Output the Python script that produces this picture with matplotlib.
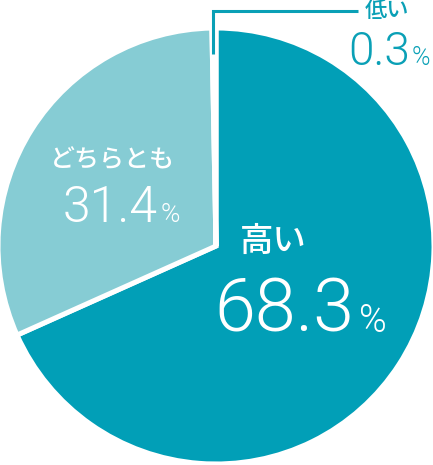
import matplotlib
matplotlib.use("Agg")
import matplotlib.pyplot as plt

labels = ["高い", "どちらとも", "低い"]
values = [68.3, 31.4, 0.3]
colors = ["#019fb7", "#86ccd4", "#eef6f7"]

W, H = 433, 465
fig = plt.figure(figsize=(W / 100, H / 100), dpi=100)
ax = fig.add_axes([0, 0, 1, 1])

cx, cy, R = 216, H - 246, 218
ax.pie(values, colors=colors, startangle=90, counterclock=False,
       center=(cx, cy), radius=R, frame=True,
       wedgeprops=dict(edgecolor="white", linewidth=3.6))
ax.set_xlim(0, W)
ax.set_ylim(0, H)
ax.set_aspect("equal")
ax.axis("off")

jp = ["Noto Sans CJK JP", "DejaVu Sans"]
num = ["Roboto", "DejaVu Sans"]

def Y(y):
    return H - y

# 高い
ax.text(273, Y(241), labels[0], family=jp, fontsize=24, color="white",
        ha="center", va="center", fontweight="medium")
ax.text(354, Y(332), f"{values[0]}", family=num, fontsize=53, color="white",
        ha="right", va="baseline", fontweight=300)
ax.text(359, Y(332), "%", family=num, fontsize=27, color="white",
        ha="left", va="baseline", fontweight=300)

# どちらとも
ax.text(112, Y(160), labels[1], family=jp, fontsize=18, color="white",
        ha="center", va="center", fontweight="medium")
ax.text(158, Y(222), f"{values[1]}", family=num, fontsize=36, color="white",
        ha="right", va="baseline", fontweight=300)
ax.text(161, Y(222), "%", family=num, fontsize=19, color="white",
        ha="left", va="baseline", fontweight=300)

# 低い
teal = "#0aa0b6"
ax.plot([213, 213, 358], [Y(54), Y(11), Y(11)], color=teal, lw=2.2,
        solid_joinstyle="miter", solid_capstyle="butt")
ax.text(387, Y(11), labels[2], family=jp, fontsize=16, color=teal,
        ha="center", va="center", fontweight="medium")
ax.text(410, Y(65), f"{values[2]}", family=num, fontsize=33, color=teal,
        ha="right", va="baseline", fontweight=300)
ax.text(412, Y(65), "%", family=num, fontsize=18, color=teal,
        ha="left", va="baseline", fontweight=300)

fig.savefig("out.png", dpi=100)
